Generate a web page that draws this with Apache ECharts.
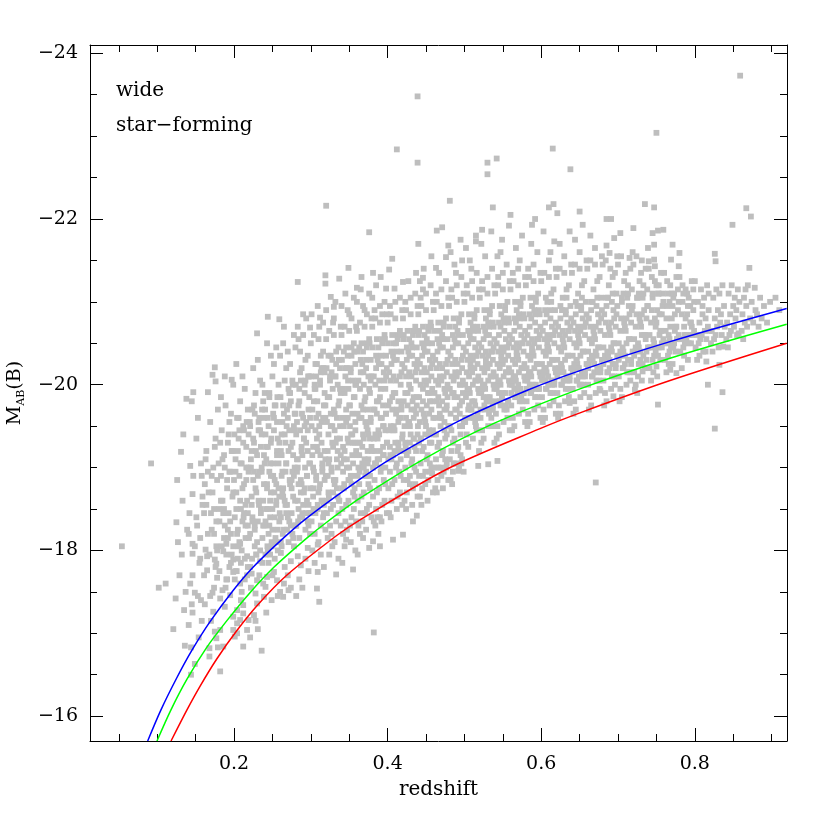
<!DOCTYPE html>
<html><head><meta charset="utf-8">
<script src="https://cdn.jsdelivr.net/npm/echarts@6/dist/echarts.min.js"></script>
<style>html,body{margin:0;padding:0;background:#fff}#c{width:830px;height:830px}</style>
</head><body><div id="c"></div>
<script>
// galaxies: [redshift, M_AB(B)]
const galaxiesLowZ = [
[.054,-18.05],[.092,-19.05],[.102,-17.55],[.111,-17.60],[.125,-18.34],
[.121,-17.05],[.124,-17.42],[.127,-18.1],[.129,-17.7],[.131,-19.19],[.133,-18.6],[.135,-17.28],[.136,-16.85],[.138,-19.83],[.139,-18.25],[.126,-18.85],[.132,-17.95],[.137,-17.5],[.134,-19.4],
[.146,-17.96],[.146,-18.08],[.146,-17.70],[.149,-17.49],[.144,-16.50],[.149,-16.63],[.144,-16.83],[.146,-17.25],[.143,-19.02],[.146,-18.68],[.147,-19.91],[.145,-19.8],
[.141,-17.1],[.152,-18.3],[.155,-17.85],[.158,-18.9],[.151,-19.35],[.157,-17.4],[.154,-16.95],[.159,-18.55],[.153,-19.6],[.156,-18.15],[.142,-18.45],[.158,-17.15],
[.163,-18.01],[.165,-17.93],[.177,-18.05],[.177,-17.84],[.175,-17.89],[.165,-17.76],[.172,-17.49],[.178,-17.67],[.168,-16.72],[.168,-16.82],[.179,-16.83],[.177,-16.94],[.175,-17.02],[.173,-17.26],
[.166,-19.91],[.175,-20.21],[.172,-20.12],[.176,-20.04],
[.161,-18.45],[.164,-19.2],[.167,-18.7],[.169,-19.55],[.171,-18.25],[.173,-19.0],[.174,-18.5],[.176,-19.35],[.178,-18.85],[.179,-19.7],[.162,-17.35],[.17,-17.15],[.166,-18.95],[.174,-18.2],
[.190,-18.08],[.199,-18.05],[.190,-17.95],[.199,-17.89],[.186,-17.99],[.182,-17.42],[.185,-17.52],[.199,-17.74],[.182,-16.54],[.186,-16.84],[.182,-17.04],[.199,-17.20],[.195,-17.46],[.188,-17.32],[.199,-17.04],
[.188,-20.10],[.199,-20.0],[.197,-20.06],
[.181,-18.35],[.183,-18.9],[.184,-19.45],[.185,-18.6],[.187,-19.15],[.188,-18.3],[.189,-19.75],[.191,-18.75],[.192,-19.3],[.193,-18.45],[.194,-19.55],[.195,-18.95],[.196,-18.2],[.197,-19.2],[.198,-18.65],[.183,-19.85],[.191,-17.65],[.194,-17.8],[.187,-18.5],[.196,-19.65],[.18,-19.05],[.192,-18.15],
[.208,-18.08],[.208,-17.60],[.204,-17.28],[.212,-17.24],[.219,-17.16],[.208,-17.16],[.204,-17.00],[.212,-16.84],[.201,-16.96],[.217,-17.04],[.204,-17.12],[.212,-17.34],[.217,-17.93],
[.201,-18.4],[.202,-19.1],[.203,-18.7],[.204,-19.6],[.205,-18.25],[.206,-19.35],[.207,-18.9],[.208,-19.8],[.209,-18.5],[.21,-19.05],[.211,-18.35],[.212,-19.5],[.213,-18.8],[.214,-19.95],[.215,-18.15],[.216,-19.25],[.217,-18.6],[.218,-19.7],[.219,-18.95],[.202,-17.75],[.205,-17.9],[.21,-17.5],[.214,-17.65],[.218,-17.8],[.203,-20.25],[.211,-20.1],[.207,-19.45],[.213,-18.45],[.216,-19.0],[.219,-19.4],[.2,-18.85],[.209,-17.4],[.215,-18.55],[.206,-18.05],[.218,-18.3],
[.226,-17.22],[.228,-17.48],[.230,-17.36],[.239,-17.44],[.230,-17.64],[.223,-17.72],[.234,-17.87],[.236,-16.79],[.230,-20.62],
[.221,-18.2],[.222,-19.0],[.223,-18.55],[.224,-19.7],[.225,-18.85],[.226,-19.3],[.227,-18.05],[.228,-19.9],[.229,-18.7],[.23,-19.15],[.231,-18.35],[.232,-19.55],[.233,-18.95],[.234,-20.05],[.235,-18.5],[.236,-19.4],[.237,-18.15],[.238,-19.8],[.239,-18.8],[.221,-19.5],[.224,-18.4],[.227,-19.65],[.229,-17.95],[.232,-18.6],[.235,-19.25],[.238,-18.3],[.222,-17.55],[.225,-20.2],[.231,-20.3],[.237,-20.0],[.24,-19.05],[.226,-18.95],[.233,-17.7],[.228,-17.15],[.236,-18.95],[.223,-19.2],[.239,-19.6],[.231,-17.05],[.234,-19.45],[.227,-18.3],[.221,-16.95],[.238,-17.6],
[.241,-17.56],[.243,-17.68],[.252,-17.74],[.256,-17.64],[.247,-17.95],[.244,-20.82],[.259,-20.79],
[.241,-18.35],[.242,-19.1],[.243,-18.75],[.244,-19.6],[.245,-18.2],[.246,-19.85],[.247,-18.6],[.248,-19.3],[.249,-18.05],[.25,-20.1],[.251,-18.9],[.252,-19.45],[.253,-18.4],[.254,-19.75],[.255,-18.8],[.256,-19.2],[.257,-18.25],[.258,-20.0],[.259,-18.65],[.24,-19.9],[.242,-18.5],[.244,-19.25],[.246,-18.95],[.248,-20.35],[.25,-18.5],[.252,-20.25],[.254,-18.1],[.256,-19.55],[.258,-19.05],[.245,-17.85],[.249,-17.4],[.253,-17.9],[.257,-17.45],[.241,-19.4],[.243,-20.5],[.247,-19.05],[.251,-19.65],[.255,-20.45],[.259,-18.35],[.246,-18.3],[.253,-18.85],[.248,-18.7],[.257,-19.35],[.244,-18.0],[.25,-17.7],[.255,-18.55],[.242,-17.25],
[.265,-17.60],[.271,-17.52],[.264,-17.44],[.261,-17.97],[.274,-17.87],[.278,-18.05],
[.261,-18.4],[.262,-19.15],[.263,-18.7],[.264,-19.75],[.265,-18.25],[.266,-19.4],[.267,-18.95],[.268,-20.2],[.269,-18.55],[.27,-19.6],[.271,-18.1],[.272,-19.9],[.273,-18.8],[.274,-19.25],[.275,-18.45],[.276,-20.05],[.277,-18.65],[.278,-19.5],[.279,-19.0],[.26,-20.35],[.262,-18.9],[.264,-20.5],[.266,-18.6],[.268,-19.05],[.27,-20.4],[.272,-18.35],[.274,-19.8],[.276,-18.2],[.278,-20.6],[.263,-19.55],[.267,-19.3],[.271,-19.95],[.275,-18.85],[.279,-18.3],[.261,-19.2],[.265,-20.7],[.269,-19.7],[.273,-20.25],[.277,-19.15],[.266,-17.8],[.27,-17.7],[.274,-17.55],[.262,-18.05],[.268,-18.45],[.272,-19.45],[.276,-18.95],[.264,-18.75],[.279,-19.65],[.26,-17.5],
[.283,-17.93],[.287,-17.82],[.296,-18.03],[.283,-21.24],[.283,-20.70],[.299,-20.69],
[.281,-18.3],[.282,-19.1],[.283,-18.6],[.284,-19.75],[.285,-18.15],[.286,-19.45],[.287,-18.85],[.288,-20.2],[.289,-18.45],[.29,-19.6],[.291,-18.7],[.292,-20.0],[.293,-18.25],[.294,-19.3],[.295,-18.9],[.296,-20.35],[.297,-18.55],[.298,-19.85],[.299,-19.05],[.28,-20.45],[.282,-18.95],[.284,-20.55],[.286,-18.4],[.288,-19.25],[.29,-20.6],[.292,-18.75],[.294,-19.55],[.296,-18.35],[.298,-20.1],[.281,-19.4],[.285,-19.95],[.289,-19.15],[.293,-20.3],[.297,-19.7],[.283,-19.0],[.287,-20.05],[.291,-19.35],[.295,-18.6],[.299,-18.2],[.285,-17.65],[.289,-17.55],[.293,-17.9],[.297,-17.75],[.281,-17.45],[.284,-18.5],[.288,-18.8],[.292,-19.5],[.296,-19.2],[.29,-20.85],[.294,-20.8],[.286,-20.4],[.298,-18.45],[.28,-19.65]
];
const galaxiesMidZ = [
[.309,-18.07],[.309,-17.74],[.308,-17.54],[.311,-17.38],[.320,-22.16],[.312,-20.81],[.316,-20.75],[.319,-21.32],[.319,-21.22],
[.301,-18.35],[.302,-19.15],[.303,-18.65],[.304,-19.8],[.305,-18.2],[.306,-19.45],[.307,-18.9],[.308,-20.25],[.309,-18.5],[.31,-19.65],[.311,-18.75],[.312,-20.05],[.313,-18.3],[.314,-19.3],[.315,-18.95],[.316,-20.4],[.317,-18.55],[.318,-19.9],[.319,-19.1],[.3,-20.5],[.302,-18.0],[.304,-20.6],[.306,-18.45],[.308,-19.25],[.31,-20.55],[.312,-18.8],[.314,-19.55],[.316,-18.4],[.318,-20.15],[.301,-19.5],[.305,-20.0],[.309,-19.2],[.313,-20.35],[.317,-19.75],[.303,-19.0],[.307,-20.1],[.311,-19.4],[.315,-18.6],[.319,-18.25],[.305,-17.85],[.313,-17.95],[.317,-17.8],[.303,-18.75],[.307,-19.6],[.311,-20.7],[.315,-19.0],[.319,-19.6],[.301,-20.85],[.309,-20.95],[.318,-18.85],[.31,-18.1],[.306,-19.95],[.314,-20.2],
[.333,-17.71],[.337,-21.28],[.326,-21.06],[.330,-20.94],[.332,-21.0],
[.321,-18.45],[.322,-19.2],[.323,-18.7],[.324,-19.85],[.325,-18.3],[.326,-19.5],[.327,-18.95],[.328,-20.3],[.329,-18.55],[.33,-19.7],[.331,-18.8],[.332,-20.1],[.333,-18.35],[.334,-19.35],[.335,-19.0],[.336,-20.45],[.337,-18.6],[.338,-19.95],[.339,-19.15],[.32,-20.55],[.322,-18.15],[.324,-20.65],[.326,-18.5],[.328,-19.3],[.33,-20.6],[.332,-18.85],[.334,-19.6],[.336,-18.45],[.338,-20.2],[.321,-19.55],[.325,-20.05],[.329,-19.25],[.333,-20.4],[.337,-19.8],[.323,-19.05],[.327,-20.15],[.331,-19.45],[.335,-18.65],[.339,-18.3],[.324,-17.95],[.328,-18.05],[.336,-17.9],[.322,-18.9],[.326,-19.65],[.33,-20.8],[.334,-19.1],[.338,-19.5],[.32,-20.9],[.329,-20.75],[.339,-20.7],[.327,-18.2],[.335,-20.0],[.331,-18.1],[.323,-20.35],
[.346,-18.13],[.355,-17.77],[.349,-21.41],
[.341,-18.5],[.342,-19.25],[.343,-18.75],[.344,-19.9],[.345,-18.35],[.346,-19.55],[.347,-19.0],[.348,-20.35],[.349,-18.6],[.35,-19.75],[.351,-18.85],[.352,-20.15],[.353,-18.4],[.354,-19.4],[.355,-19.05],[.356,-20.5],[.357,-18.65],[.358,-20.0],[.359,-19.2],[.34,-20.6],[.342,-18.2],[.344,-20.7],[.346,-18.55],[.348,-19.35],[.35,-20.65],[.352,-18.9],[.354,-19.65],[.356,-18.5],[.358,-20.25],[.341,-19.6],[.345,-20.1],[.349,-19.3],[.353,-20.45],[.357,-19.85],[.343,-19.1],[.347,-20.2],[.351,-19.5],[.355,-18.7],[.359,-18.35],[.344,-18.05],[.352,-18.1],[.358,-18.0],[.342,-18.95],[.346,-19.7],[.35,-20.85],[.354,-19.15],[.358,-19.55],[.34,-20.95],[.348,-20.9],[.356,-21.05],[.345,-21.1],[.353,-20.8],[.347,-18.25],[.355,-20.05],[.351,-18.3],[.343,-20.4],[.357,-19.3],[.349,-19.95],[.359,-20.7],[.341,-17.85],[.353,-18.8],
[.360,-21.17],[.376,-21.84],[.376,-18.03],
[.361,-18.6],[.362,-19.3],[.363,-18.8],[.364,-19.95],[.365,-18.45],[.366,-19.6],[.367,-19.05],[.368,-20.4],[.369,-18.7],[.37,-19.8],[.371,-18.9],[.372,-20.2],[.373,-18.5],[.374,-19.45],[.375,-19.1],[.376,-20.55],[.377,-18.75],[.378,-20.05],[.379,-19.25],[.36,-20.65],[.362,-18.3],[.364,-20.75],[.366,-18.65],[.368,-19.4],[.37,-20.7],[.372,-18.95],[.374,-19.7],[.376,-18.55],[.378,-20.3],[.361,-19.65],[.365,-20.15],[.369,-19.35],[.373,-20.5],[.377,-19.9],[.363,-19.15],[.367,-20.25],[.371,-19.55],[.375,-18.8],[.379,-18.4],[.364,-18.2],[.372,-18.25],[.368,-18.15],[.362,-19.0],[.366,-19.75],[.37,-20.9],[.374,-19.2],[.378,-19.6],[.36,-21.0],[.368,-20.95],[.376,-21.1],[.365,-21.15],[.373,-20.85],[.367,-18.35],[.375,-20.1],[.371,-18.45],[.363,-20.45],[.377,-19.35],[.369,-20.0],[.379,-20.8],[.361,-17.95],[.373,-18.9],[.366,-21.3],
[.382,-17.01],[.381,-18.11],[.390,-18.05],[.390,-18.40],[.385,-21.20],[.398,-21.16],
[.381,-18.65],[.382,-19.35],[.383,-18.85],[.384,-20.0],[.385,-18.5],[.386,-19.65],[.387,-19.1],[.388,-20.45],[.389,-18.75],[.39,-19.85],[.391,-18.95],[.392,-20.25],[.393,-18.55],[.394,-19.5],[.395,-19.15],[.396,-20.6],[.397,-18.8],[.398,-20.1],[.399,-19.3],[.38,-20.7],[.382,-18.35],[.384,-20.8],[.386,-18.7],[.388,-19.45],[.39,-20.75],[.392,-19.0],[.394,-19.75],[.396,-18.6],[.398,-20.35],[.381,-19.7],[.385,-20.2],[.389,-19.4],[.393,-20.55],[.397,-19.95],[.383,-19.2],[.387,-20.3],[.391,-19.6],[.395,-18.85],[.399,-18.45],[.384,-18.3],[.392,-18.35],[.388,-18.2],[.386,-19.8],[.39,-20.95],[.394,-19.25],[.398,-19.65],[.38,-21.05],[.396,-21.0],[.383,-20.9],[.393,-20.85],[.387,-18.4],[.395,-20.15],[.389,-20.05],[.399,-20.85],[.385,-19.05],[.397,-19.45],[.391,-21.3],[.381,-21.35],
[.412,-22.84],[.406,-21.52],[.402,-21.39],[.409,-21.16],[.420,-21.24],[.407,-18.13],[.420,-18.19],
[.401,-18.75],[.402,-19.45],[.403,-18.95],[.404,-20.05],[.405,-18.6],[.406,-19.7],[.407,-19.15],[.408,-20.5],[.409,-18.85],[.41,-19.9],[.411,-19.0],[.412,-20.3],[.413,-18.65],[.414,-19.55],[.415,-19.2],[.416,-20.65],[.417,-18.9],[.418,-20.15],[.419,-19.35],[.4,-20.75],[.402,-18.45],[.404,-20.85],[.406,-18.8],[.408,-19.5],[.41,-20.8],[.412,-19.05],[.414,-19.8],[.416,-18.7],[.418,-20.4],[.401,-19.75],[.405,-20.25],[.409,-19.45],[.413,-20.6],[.417,-20.0],[.403,-19.25],[.407,-20.35],[.411,-19.65],[.415,-18.95],[.419,-18.55],[.404,-18.4],[.412,-18.5],[.406,-19.85],[.41,-21.0],[.414,-19.3],[.418,-19.7],[.403,-20.95],[.416,-21.05],[.408,-20.1],[.419,-20.9],[.405,-19.1],[.417,-19.6],[.411,-20.5],
[.439,-23.48],[.439,-22.68],[.440,-21.70],[.438,-18.42],
[.421,-18.85],[.422,-19.5],[.423,-19.0],[.424,-20.1],[.425,-18.7],[.426,-19.75],[.427,-19.2],[.428,-20.55],[.429,-18.9],[.43,-19.95],[.431,-19.05],[.432,-20.35],[.433,-18.75],[.434,-19.6],[.435,-19.25],[.436,-20.7],[.437,-18.95],[.438,-20.2],[.439,-19.4],[.42,-20.8],[.422,-18.6],[.424,-20.9],[.426,-18.85],[.428,-19.55],[.43,-20.85],[.432,-19.1],[.434,-19.85],[.436,-18.8],[.438,-20.45],[.421,-19.8],[.425,-20.3],[.429,-19.5],[.433,-20.65],[.437,-20.05],[.423,-19.3],[.427,-20.4],[.431,-19.7],[.435,-19.0],[.439,-18.65],[.424,-18.5],[.432,-18.55],[.426,-19.9],[.43,-21.05],[.434,-19.35],[.438,-19.75],[.423,-21.0],[.436,-21.1],[.428,-20.15],[.439,-20.95],[.425,-19.15],[.437,-19.65],[.431,-20.5],[.427,-21.25],[.433,-18.35],[.421,-20.6],[.435,-20.25],[.429,-18.8],[.437,-21.35],
[.446,-21.29],[.446,-21.15],[.458,-18.93],
[.441,-18.9],[.442,-19.55],[.443,-19.05],[.444,-20.15],[.445,-18.75],[.446,-19.8],[.447,-19.25],[.448,-20.6],[.449,-18.95],[.45,-20.0],[.451,-19.1],[.452,-20.4],[.453,-18.85],[.454,-19.65],[.455,-19.3],[.456,-20.75],[.457,-19.0],[.458,-20.25],[.459,-19.45],[.44,-20.85],[.442,-18.65],[.444,-20.95],[.446,-18.9],[.448,-19.6],[.45,-20.9],[.452,-19.15],[.454,-19.9],[.456,-18.95],[.458,-20.5],[.441,-19.85],[.445,-20.35],[.449,-19.55],[.453,-20.7],[.457,-20.1],[.443,-19.35],[.447,-20.45],[.451,-19.75],[.455,-19.05],[.459,-18.7],[.444,-18.55],[.452,-18.6],[.446,-19.95],[.45,-21.1],[.454,-19.4],[.458,-19.8],[.443,-21.05],[.456,-21.2],[.448,-20.2],[.459,-21.0],[.445,-19.2],[.457,-19.7],[.451,-20.55],[.447,-21.4],[.453,-20.05],[.441,-20.65],[.455,-20.3],[.449,-18.8],[.442,-21.25],[.457,-21.55],
[.464,-21.86],[.463,-21.41],[.470,-18.90],[.471,-21.90],[.476,-21.54],[.479,-21.68],
[.461,-19.0],[.462,-19.6],[.463,-19.1],[.464,-20.2],[.465,-18.85],[.466,-19.85],[.467,-19.3],[.468,-20.65],[.469,-19.0],[.47,-20.05],[.471,-19.15],[.472,-20.45],[.473,-18.95],[.474,-19.7],[.475,-19.35],[.476,-20.8],[.477,-19.05],[.478,-20.3],[.479,-19.5],[.46,-20.9],[.462,-18.75],[.464,-21.0],[.466,-19.0],[.468,-19.65],[.47,-20.95],[.472,-19.2],[.474,-19.95],[.476,-19.0],[.478,-20.55],[.461,-19.9],[.465,-20.4],[.469,-19.6],[.473,-20.75],[.477,-20.15],[.463,-19.4],[.467,-20.5],[.471,-19.8],[.475,-19.1],[.479,-18.85],[.464,-18.7],[.472,-18.75],[.466,-20.0],[.47,-21.15],[.474,-19.45],[.478,-19.85],[.463,-21.1],[.476,-21.25],[.468,-20.25],[.479,-21.05],[.465,-19.25],[.477,-19.75],[.471,-20.6],[.467,-21.35],[.473,-20.1],
[.481,-22.22],[.492,-18.96],
[.481,-19.1],[.482,-19.65],[.483,-19.2],[.484,-20.25],[.485,-18.95],[.486,-19.9],[.487,-19.35],[.488,-20.7],[.489,-19.05],[.49,-20.1],[.491,-19.2],[.492,-20.5],[.493,-19.0],[.494,-19.75],[.495,-19.4],[.496,-20.85],[.497,-19.1],[.498,-20.35],[.499,-19.55],[.48,-20.95],[.482,-18.85],[.484,-21.05],[.486,-19.05],[.488,-19.7],[.49,-21.0],[.492,-19.25],[.494,-20.0],[.496,-19.05],[.498,-20.6],[.481,-19.95],[.485,-20.45],[.489,-19.6],[.493,-20.8],[.497,-20.2],[.483,-19.45],[.487,-20.55],[.491,-19.85],[.495,-19.15],[.499,-18.95],[.484,-18.8],[.486,-20.05],[.49,-21.2],[.494,-19.5],[.498,-19.9],[.483,-21.15],[.496,-21.3],[.488,-20.3],[.499,-21.1],[.485,-19.3],[.497,-19.8],[.491,-20.65],[.487,-21.45],[.493,-20.15],[.482,-21.6],[.495,-21.75],[.489,-21.35],[.497,-21.5]
];
const galaxiesHighZ = [
[.518,-19.02],[.515,-21.73],
[.501,-19.55],[.502,-19.85],[.503,-19.4],[.504,-20.3],[.505,-19.25],[.506,-19.95],[.507,-19.6],[.508,-20.75],[.509,-19.7],[.51,-20.15],[.511,-19.35],[.512,-20.55],[.513,-19.8],[.514,-20.05],[.515,-19.5],[.516,-20.9],[.517,-19.65],[.518,-20.4],[.519,-19.9],[.5,-21.0],[.502,-19.3],[.504,-21.1],[.506,-19.75],[.508,-20.25],[.51,-21.05],[.512,-19.6],[.514,-20.45],[.516,-19.45],[.518,-20.65],[.501,-20.0],[.505,-20.5],[.509,-20.2],[.513,-20.85],[.517,-20.25],[.503,-19.9],[.507,-20.6],[.511,-20.0],[.515,-20.35],[.519,-19.2],[.506,-20.1],[.51,-21.25],[.514,-19.55],[.518,-19.95],[.503,-21.2],[.516,-21.35],[.508,-20.35],[.519,-21.15],[.505,-19.7],[.517,-20.7],[.511,-20.7],[.507,-21.5],[.513,-20.2],[.502,-21.65],[.515,-21.8],[.509,-21.4],
[.523,-21.87],[.530,-22.68],[.530,-22.54],[.537,-22.14],[.531,-19.04],
[.521,-19.6],[.522,-19.9],[.523,-19.45],[.524,-20.35],[.525,-19.35],[.526,-20.0],[.527,-19.7],[.528,-20.8],[.529,-19.8],[.53,-20.2],[.531,-19.5],[.532,-20.6],[.533,-19.85],[.534,-20.1],[.535,-19.6],[.536,-20.95],[.537,-19.75],[.538,-20.45],[.539,-19.95],[.52,-21.05],[.522,-19.3],[.524,-21.15],[.526,-19.75],[.528,-20.3],[.53,-21.1],[.532,-19.65],[.534,-20.5],[.536,-19.5],[.538,-20.7],[.521,-20.05],[.525,-20.55],[.529,-20.25],[.533,-20.9],[.537,-20.3],[.523,-19.95],[.527,-20.65],[.531,-20.05],[.535,-20.4],[.539,-19.3],[.526,-20.15],[.53,-21.3],[.534,-19.7],[.538,-20.0],[.523,-21.25],[.536,-21.4],[.528,-20.4],[.539,-21.2],[.525,-19.85],[.537,-20.75],[.531,-20.75],[.527,-21.55],[.533,-20.25],[.522,-21.7],[.535,-21.85],
[.543,-21.55],[.542,-22.73],[.543,-19.08],
[.541,-19.65],[.542,-19.95],[.543,-19.5],[.544,-20.4],[.545,-19.4],[.546,-20.05],[.547,-19.75],[.548,-20.85],[.549,-19.85],[.55,-20.25],[.551,-19.55],[.552,-20.65],[.553,-19.9],[.554,-20.15],[.555,-19.7],[.556,-21.0],[.557,-19.8],[.558,-20.5],[.559,-20.0],[.54,-21.1],[.542,-19.35],[.544,-21.2],[.546,-19.8],[.548,-20.35],[.55,-21.15],[.552,-19.7],[.554,-20.55],[.556,-19.6],[.558,-20.75],[.541,-20.1],[.545,-20.6],[.549,-20.3],[.553,-20.95],[.557,-20.35],[.543,-20.0],[.547,-20.7],[.551,-20.1],[.555,-20.45],[.559,-19.45],[.546,-20.2],[.55,-21.35],[.554,-19.75],[.558,-20.05],[.548,-20.45],[.559,-21.25],[.545,-19.9],[.557,-20.8],[.551,-20.8],[.547,-21.6],[.553,-20.3],[.555,-21.45],[.549,-21.75],[.544,-21.3],
[.560,-22.05],[.558,-21.92],[.572,-21.50],
[.561,-19.75],[.562,-20.0],[.563,-19.6],[.564,-20.45],[.565,-19.5],[.566,-20.1],[.567,-19.85],[.568,-20.9],[.569,-19.9],[.57,-20.3],[.571,-19.65],[.572,-20.7],[.573,-19.95],[.574,-20.2],[.575,-19.8],[.576,-21.05],[.577,-19.9],[.578,-20.55],[.579,-20.05],[.56,-21.15],[.562,-19.45],[.564,-21.25],[.566,-19.85],[.568,-20.4],[.57,-21.2],[.572,-19.8],[.574,-20.6],[.576,-19.7],[.578,-20.8],[.561,-20.15],[.565,-20.65],[.569,-20.35],[.573,-21.0],[.577,-20.4],[.563,-20.05],[.567,-20.75],[.571,-20.15],[.575,-20.5],[.579,-19.55],[.566,-20.25],[.57,-21.4],[.574,-19.85],[.578,-20.1],[.568,-20.5],[.579,-21.3],[.565,-19.95],[.577,-20.85],[.571,-20.85],[.567,-21.65],[.563,-21.35],[.575,-21.8],
[.588,-21.93],
[.581,-19.8],[.582,-20.05],[.583,-19.65],[.584,-20.5],[.585,-19.55],[.586,-20.15],[.587,-19.9],[.588,-20.95],[.589,-19.95],[.59,-20.35],[.591,-19.7],[.592,-20.75],[.593,-20.0],[.594,-20.25],[.595,-19.85],[.596,-21.1],[.597,-19.95],[.598,-20.6],[.599,-20.1],[.58,-21.2],[.582,-19.5],[.584,-21.3],[.586,-19.9],[.588,-20.45],[.59,-21.25],[.592,-19.85],[.594,-20.65],[.596,-19.75],[.598,-20.85],[.581,-20.2],[.585,-20.7],[.589,-20.4],[.593,-21.05],[.597,-20.45],[.583,-20.1],[.587,-20.8],[.591,-20.2],[.595,-20.55],[.599,-19.6],[.586,-20.3],[.59,-21.45],[.594,-19.95],[.598,-20.15],[.588,-20.55],[.599,-21.35],[.585,-20.0],[.597,-20.9],[.591,-20.9],[.587,-21.7],[.583,-21.4],[.595,-21.6],[.592,-22.0],
[.615,-22.85],[.610,-22.14],[.616,-22.18],[.617,-21.73],
[.601,-19.85],[.602,-20.1],[.603,-19.7],[.604,-20.55],[.605,-19.6],[.606,-20.2],[.607,-19.95],[.608,-21.0],[.609,-20.0],[.61,-20.4],[.611,-19.75],[.612,-20.8],[.613,-20.05],[.614,-20.3],[.615,-19.9],[.616,-21.15],[.617,-20.0],[.618,-20.65],[.619,-20.15],[.6,-21.25],[.602,-19.55],[.604,-21.35],[.606,-19.95],[.608,-20.5],[.61,-21.3],[.612,-19.9],[.614,-20.7],[.616,-19.8],[.618,-20.9],[.601,-20.25],[.605,-20.75],[.609,-20.45],[.613,-21.1],[.617,-20.5],[.603,-20.15],[.607,-20.85],[.611,-20.25],[.615,-20.6],[.619,-19.65],[.606,-20.35],[.61,-21.5],[.614,-20.0],[.618,-20.2],[.608,-20.6],[.619,-21.4],[.605,-20.05],[.612,-21.6],[.603,-21.85],
[.621,-22.07],[.637,-21.85],[.638,-22.60],[.637,-19.78],
[.621,-19.9],[.622,-20.15],[.623,-19.75],[.624,-20.6],[.625,-19.65],[.626,-20.25],[.627,-20.0],[.628,-21.05],[.629,-20.05],[.63,-20.45],[.631,-19.8],[.632,-20.85],[.633,-20.1],[.634,-20.35],[.635,-19.95],[.636,-21.2],[.637,-20.05],[.638,-20.7],[.639,-20.2],[.62,-21.3],[.622,-19.6],[.624,-21.4],[.626,-20.0],[.628,-20.55],[.63,-21.35],[.632,-19.95],[.634,-20.75],[.636,-19.85],[.638,-20.95],[.621,-20.3],[.625,-20.8],[.629,-20.5],[.633,-21.15],[.637,-20.55],[.623,-20.2],[.627,-20.9],[.631,-20.3],[.635,-20.65],[.626,-20.4],[.63,-21.55],[.634,-20.05],[.639,-21.45],[.628,-20.65],[.624,-21.7],
[.650,-22.09],[.654,-21.93],[.65,-20.0],
[.641,-19.95],[.642,-20.2],[.643,-19.8],[.644,-20.65],[.645,-19.7],[.646,-20.3],[.647,-20.05],[.648,-21.1],[.649,-20.1],[.65,-20.5],[.651,-19.85],[.652,-20.9],[.653,-20.15],[.654,-20.4],[.655,-20.0],[.656,-21.25],[.657,-20.1],[.658,-20.75],[.659,-20.25],[.64,-21.35],[.642,-19.65],[.644,-21.45],[.646,-20.05],[.648,-20.6],[.65,-21.4],[.652,-20.0],[.654,-20.8],[.656,-19.9],[.658,-21.0],[.641,-20.35],[.645,-20.85],[.649,-20.55],[.653,-21.2],[.657,-20.6],[.643,-20.25],[.647,-20.95],[.651,-20.35],[.655,-20.7],[.646,-20.45],[.65,-21.6],[.654,-20.1],[.659,-21.5],[.648,-20.7],[.644,-21.75],
[.671,-18.82],[.677,-19.93],
[.661,-20.0],[.662,-20.25],[.663,-19.85],[.664,-20.7],[.665,-19.75],[.666,-20.35],[.667,-20.1],[.668,-21.15],[.669,-20.15],[.67,-20.55],[.671,-19.9],[.672,-20.95],[.673,-20.2],[.674,-20.45],[.675,-20.05],[.676,-21.3],[.677,-20.15],[.678,-20.8],[.679,-20.3],[.66,-21.4],[.662,-19.7],[.664,-21.5],[.666,-20.1],[.668,-20.65],[.67,-21.45],[.672,-20.05],[.674,-20.85],[.676,-19.95],[.678,-21.05],[.661,-20.4],[.665,-20.9],[.669,-20.6],[.673,-21.25],[.677,-20.65],[.663,-20.3],[.667,-21.0],[.671,-20.4],[.675,-20.75],[.666,-20.5],[.67,-21.65],[.674,-20.15],[.679,-21.55],[.664,-21.8],
[.685,-22.00],[.691,-22.00],[.695,-21.77],[.685,-21.68],[.689,-21.59],[.694,-19.86],
[.681,-20.05],[.682,-20.3],[.683,-19.9],[.684,-20.75],[.685,-19.8],[.686,-20.4],[.687,-20.15],[.688,-21.2],[.689,-20.2],[.69,-20.6],[.691,-19.95],[.692,-21.0],[.693,-20.25],[.694,-20.5],[.695,-20.1],[.696,-21.35],[.697,-20.2],[.698,-20.85],[.699,-20.35],[.68,-21.45],[.682,-19.75],[.684,-21.5],[.686,-20.15],[.688,-20.7],[.69,-21.4],[.692,-20.1],[.694,-20.9],[.696,-20.0],[.698,-21.1],[.681,-20.45],[.685,-20.95],[.689,-20.65],[.693,-21.3],[.697,-20.7],[.683,-20.35],[.687,-21.05],[.691,-20.45],[.695,-20.8],[.699,-21.55]
];
const galaxiesFarZ = [
[.703,-21.83],[.715,-21.53],[.720,-21.89],
[.701,-20.1],[.702,-20.35],[.703,-19.95],[.704,-20.8],[.705,-19.85],[.706,-20.45],[.707,-20.2],[.708,-21.25],[.709,-20.25],[.71,-20.65],[.711,-20.0],[.712,-21.05],[.713,-20.3],[.714,-20.55],[.715,-20.15],[.716,-21.4],[.717,-20.25],[.718,-20.9],[.719,-20.4],[.7,-21.45],[.702,-19.8],[.704,-21.55],[.706,-20.2],[.708,-20.75],[.71,-21.35],[.712,-20.15],[.714,-20.95],[.716,-20.05],[.718,-21.15],[.701,-20.5],[.705,-21.0],[.709,-20.7],[.713,-21.2],[.717,-20.75],[.703,-20.4],[.707,-21.1],[.711,-20.5],[.719,-21.6],[.715,-20.85],
[.722,-19.94],[.731,-21.50],[.735,-22.18],[.732,-20.16],
[.721,-20.15],[.722,-20.4],[.723,-20.0],[.724,-20.85],[.725,-19.9],[.726,-20.5],[.727,-20.25],[.728,-21.25],[.729,-20.3],[.73,-20.7],[.731,-20.05],[.732,-21.05],[.733,-20.35],[.734,-20.6],[.735,-20.2],[.736,-21.4],[.737,-20.3],[.738,-20.95],[.739,-20.45],[.72,-21.45],[.724,-21.55],[.726,-20.1],[.728,-20.8],[.73,-21.35],[.732,-20.25],[.734,-20.9],[.736,-20.55],[.738,-21.15],[.721,-20.55],[.725,-21.05],[.729,-20.75],[.733,-21.2],[.737,-20.8],[.723,-20.45],[.727,-21.1],[.731,-20.6],[.739,-21.65],
[.750,-23.04],[.747,-22.14],[.745,-21.83],[.752,-21.86],[.759,-21.87],[.747,-21.69],[.740,-21.49],[.747,-21.51],[.748,-21.43],[.752,-19.76],[.75,-20.22],
[.741,-20.2],[.742,-20.45],[.743,-20.05],[.744,-20.9],[.745,-20.3],[.746,-20.55],[.747,-20.35],[.748,-21.25],[.749,-20.4],[.75,-20.75],[.751,-20.1],[.752,-21.1],[.753,-20.45],[.754,-20.6],[.755,-20.3],[.756,-21.35],[.757,-20.5],[.758,-20.95],[.759,-20.55],[.74,-21.4],[.744,-21.3],[.746,-20.15],[.748,-20.8],[.75,-21.2],[.752,-20.35],[.754,-20.85],[.756,-20.65],[.758,-21.1],[.741,-20.6],[.745,-21.05],[.749,-20.7],[.753,-21.2],[.757,-20.85],
[.771,-21.69],[.769,-21.51],[.768,-20.18],[.776,-20.14],
[.761,-20.3],[.762,-20.5],[.763,-20.15],[.764,-20.95],[.765,-20.35],[.766,-20.6],[.767,-20.4],[.768,-21.2],[.769,-20.45],[.77,-20.8],[.771,-20.25],[.772,-21.05],[.773,-20.5],[.774,-20.65],[.775,-20.4],[.776,-21.3],[.777,-20.55],[.778,-20.9],[.779,-20.6],[.76,-21.35],[.764,-21.25],[.766,-20.25],[.768,-20.7],[.77,-21.1],[.772,-20.45],[.774,-20.85],[.776,-20.7],[.778,-21.15],[.762,-20.65],[.767,-21.0],
[.780,-21.59],[.779,-21.43],
[.781,-20.4],[.782,-20.55],[.783,-20.2],[.784,-21.0],[.785,-20.45],[.786,-20.7],[.787,-20.5],[.788,-21.15],[.789,-20.55],[.79,-20.85],[.791,-20.3],[.792,-21.05],[.793,-20.6],[.794,-20.75],[.795,-20.5],[.796,-21.25],[.797,-20.6],[.798,-20.9],[.799,-20.65],[.78,-21.3],[.784,-21.2],[.786,-20.35],[.788,-20.8],[.79,-21.1],[.792,-20.5],[.794,-20.95],[.796,-20.7],[.798,-21.15],
[.815,-20.28],[.814,-20.40],[.817,-20.0],
[.801,-20.45],[.802,-20.6],[.803,-20.3],[.804,-21.0],[.805,-20.5],[.806,-20.75],[.807,-20.55],[.808,-21.15],[.809,-20.6],[.81,-20.85],[.811,-20.4],[.812,-21.05],[.813,-20.65],[.814,-20.8],[.815,-20.55],[.816,-21.2],[.817,-20.7],[.818,-20.9],[.819,-20.65],[.8,-21.25],[.806,-20.35],[.81,-20.95],[.818,-21.1],
[.826,-21.58],[.827,-21.49],[.826,-19.47],[.832,-20.24],[.836,-19.91],[.837,-20.46],
[.821,-20.5],[.822,-20.65],[.823,-20.4],[.824,-21.05],[.825,-20.55],[.826,-20.8],[.827,-20.6],[.828,-21.15],[.829,-20.7],[.83,-20.9],[.831,-20.45],[.832,-21.1],[.833,-20.75],[.834,-20.85],[.835,-20.6],[.836,-21.2],[.838,-20.95],[.839,-20.7],
[.849,-21.93],[.857,-20.62],[.859,-23.73],
[.841,-20.55],[.842,-20.75],[.843,-20.45],[.844,-21.1],[.845,-20.6],[.846,-20.85],[.847,-20.65],[.848,-21.2],[.85,-20.95],[.851,-20.7],[.852,-21.05],[.853,-20.8],[.854,-20.9],[.855,-20.6],[.856,-21.15],[.858,-21.0],
[.867,-22.13],[.873,-22.03],[.871,-21.41],[.866,-21.15],[.878,-21.17],
[.861,-20.65],[.862,-20.85],[.863,-20.55],[.864,-21.05],[.865,-20.75],[.867,-20.95],[.868,-20.7],[.869,-21.2],[.872,-20.8],[.874,-21.0],[.876,-20.75],[.879,-20.9],
[.881,-20.85],[.883,-20.7],[.885,-21.05],[.887,-20.8],[.89,-20.95],[.894,-20.75],[.898,-21.0],[.905,-21.05],[.91,-20.9]
];
const galaxiesCore = [
[.143,-17.6],[.151,-18.4],[.147,-18.9],[.156,-17.9],[.159,-18.65],[.141,-18.2],[.153,-17.45],[.149,-18.05],[.157,-19.05],[.145,-17.35],
[.161,-17.7],[.164,-18.55],[.168,-17.95],[.171,-18.9],[.174,-17.55],[.177,-18.35],[.163,-19.1],[.166,-18.2],[.169,-17.45],[.172,-18.7],[.175,-19.25],[.178,-18.0],[.162,-18.8],[.176,-17.8],[.17,-18.45],
[.181,-17.75],[.183,-18.6],[.185,-19.1],[.187,-18.15],[.189,-17.55],[.191,-18.85],[.193,-19.4],[.195,-18.35],[.197,-17.95],[.199,-18.7],[.182,-19.3],[.184,-18.05],[.186,-18.45],[.188,-19.0],[.19,-17.65],[.192,-18.25],[.194,-18.95],[.196,-17.85],[.198,-19.2],[.1805,-18.5],
[.201,-17.65],[.203,-18.5],[.205,-19.2],[.207,-18.1],[.209,-17.85],[.211,-18.75],[.213,-19.45],[.215,-18.3],[.217,-17.7],[.219,-19.0],[.202,-18.95],[.204,-18.2],[.206,-19.6],[.208,-18.6],[.21,-18.0],[.212,-19.3],[.214,-17.9],[.216,-18.85],[.218,-18.45],[.2005,-19.4],[.2035,-17.75],[.2085,-19.05],[.2125,-18.4],[.2165,-19.55],[.2195,-18.15],
[.221,-17.8],[.223,-18.65],[.225,-19.35],[.227,-18.25],[.229,-17.95],[.231,-18.9],[.233,-19.6],[.235,-18.45],[.237,-17.85],[.239,-19.15],[.222,-19.1],[.224,-18.35],[.226,-19.75],[.228,-18.75],[.23,-18.1],[.232,-19.45],[.234,-18.0],[.236,-19.0],[.238,-18.6],[.2205,-19.55],[.2235,-17.9],[.2285,-19.2],[.2325,-18.55],[.2365,-19.7],[.2395,-18.3],
[.241,-17.95],[.243,-18.8],[.245,-19.5],[.247,-18.4],[.249,-18.1],[.251,-19.05],[.253,-19.75],[.255,-18.6],[.257,-18.0],[.259,-19.3],[.242,-19.25],[.244,-18.5],[.246,-19.9],[.248,-18.9],[.25,-18.25],[.252,-19.6],[.254,-18.15],[.256,-19.15],[.258,-18.75],[.2405,-19.7],[.2435,-18.05],[.2485,-19.35],[.2525,-18.7],[.2565,-19.85],[.2595,-18.45],
[.261,-18.1],[.263,-18.95],[.265,-19.65],[.267,-18.55],[.269,-18.25],[.271,-19.2],[.273,-19.9],[.275,-18.75],[.277,-18.15],[.279,-19.45],[.262,-19.4],[.264,-18.65],[.266,-20.05],[.268,-19.05],[.27,-18.4],[.272,-19.75],[.274,-18.3],[.276,-19.3],[.278,-18.9],[.2605,-19.85],[.2635,-18.2],[.2685,-19.5],[.2725,-18.85],[.2765,-20.0],[.2795,-18.6],
[.281,-18.3],[.283,-19.1],[.285,-19.8],[.287,-18.7],[.289,-18.4],[.291,-19.35],[.293,-20.05],[.295,-18.9],[.297,-18.3],[.299,-19.6],[.282,-19.55],[.284,-18.8],[.286,-20.15],[.288,-19.2],[.29,-18.55],[.292,-19.9],[.294,-18.45],[.296,-19.45],[.298,-19.05],[.2805,-20.0],[.2835,-18.35],[.2885,-19.65],[.2925,-19.0],[.2965,-20.1],[.2995,-18.75],
[.301,-18.45],[.303,-19.25],[.305,-19.95],[.307,-18.85],[.309,-18.55],[.311,-19.5],[.313,-20.15],[.315,-19.05],[.317,-18.45],[.319,-19.75],[.302,-19.7],[.304,-18.95],[.306,-20.25],[.308,-19.35],[.31,-18.7],[.312,-20.0],[.314,-18.6],[.316,-19.6],[.318,-19.2],[.3005,-20.1],[.3035,-18.5],[.3085,-19.8],[.3125,-19.15],[.3165,-20.2],[.3195,-18.9],
[.321,-18.6],[.323,-19.4],[.325,-20.1],[.327,-19.0],[.329,-18.7],[.331,-19.65],[.333,-20.25],[.335,-19.2],[.337,-18.6],[.339,-19.9],[.322,-19.85],[.324,-19.1],[.326,-20.35],[.328,-19.5],[.33,-18.85],[.332,-20.1],[.334,-18.75],[.336,-19.75],[.338,-19.35],[.3205,-20.2],[.3235,-18.65],[.3285,-19.95],[.3325,-19.3],[.3365,-20.3],[.3395,-19.05],
[.341,-18.75],[.343,-19.5],[.345,-20.2],[.347,-19.1],[.349,-18.85],[.351,-19.75],[.353,-20.35],[.355,-19.3],[.357,-18.75],[.359,-20.0],[.342,-19.95],[.344,-19.2],[.346,-20.45],[.348,-19.6],[.35,-19.0],[.352,-20.2],[.354,-18.9],[.356,-19.85],[.358,-19.45],[.3405,-20.3],[.3435,-18.8],[.3485,-20.05],[.3525,-19.4],[.3565,-20.4],[.3595,-19.15],
[.361,-18.9],[.363,-19.6],[.365,-20.3],[.367,-19.25],[.369,-19.0],[.371,-19.85],[.373,-20.45],[.375,-19.4],[.377,-18.9],[.379,-20.1],[.362,-20.05],[.364,-19.3],[.366,-20.5],[.368,-19.7],[.37,-19.1],[.372,-20.3],[.374,-19.05],[.376,-19.95],[.378,-19.55],[.3605,-20.4],[.3635,-18.95],[.3685,-20.15],[.3725,-19.5],[.3765,-20.5],[.3795,-19.2],
[.381,-19.0],[.383,-19.7],[.385,-20.35],[.387,-19.35],[.389,-19.1],[.391,-19.95],[.393,-20.5],[.395,-19.5],[.397,-19.0],[.399,-20.2],[.382,-20.1],[.384,-19.4],[.386,-20.55],[.388,-19.8],[.39,-19.2],[.392,-20.35],[.394,-19.15],[.396,-20.05],[.398,-19.65],[.3805,-20.45],[.3835,-19.05],[.3885,-20.25],[.3925,-19.6],[.3965,-20.55],[.3995,-19.3],
[.401,-19.1],[.403,-19.8],[.405,-20.4],[.407,-19.45],[.409,-19.2],[.411,-20.05],[.413,-20.55],[.415,-19.6],[.417,-19.1],[.419,-20.25],[.402,-20.15],[.404,-19.5],[.406,-20.6],[.408,-19.9],[.41,-19.3],[.412,-20.4],[.414,-19.25],[.416,-20.1],[.418,-19.75],[.4005,-20.5],[.4035,-19.15],[.4085,-20.3],[.4125,-19.7],[.4165,-20.6],[.4195,-19.4],
[.421,-19.2],[.423,-19.9],[.425,-20.45],[.427,-19.55],[.429,-19.3],[.431,-20.1],[.433,-20.6],[.435,-19.7],[.437,-19.2],[.439,-20.3],[.422,-20.2],[.424,-19.6],[.426,-20.65],[.428,-20.0],[.43,-19.4],[.432,-20.45],[.434,-19.35],[.436,-20.15],[.438,-19.85],[.4205,-20.55],[.4235,-19.25],[.4285,-20.35],[.4325,-19.8],[.4365,-20.65],[.4395,-19.5],
[.441,-19.3],[.443,-20.0],[.445,-20.5],[.447,-19.65],[.449,-19.4],[.451,-20.15],[.453,-20.65],[.455,-19.8],[.457,-19.3],[.459,-20.35],[.442,-20.25],[.444,-19.7],[.446,-20.7],[.448,-20.05],[.45,-19.5],[.452,-20.5],[.454,-19.45],[.456,-20.2],[.458,-19.95],[.4405,-20.6],[.4435,-19.35],[.4485,-20.4],[.4525,-19.9],[.4565,-20.7],[.4595,-19.6],
[.461,-19.4],[.463,-20.05],[.465,-20.55],[.467,-19.75],[.469,-19.5],[.471,-20.2],[.473,-20.7],[.475,-19.9],[.477,-19.4],[.479,-20.4],[.462,-20.3],[.464,-19.8],[.466,-20.75],[.468,-20.1],[.47,-19.6],[.472,-20.55],[.474,-19.55],[.476,-20.25],[.478,-20.0],[.4605,-20.65],[.4685,-20.45],[.4765,-19.7],
[.481,-19.5],[.483,-20.1],[.485,-20.6],[.487,-19.85],[.489,-19.6],[.491,-20.25],[.493,-20.75],[.495,-20.0],[.497,-19.5],[.499,-20.45],[.482,-20.35],[.484,-19.9],[.486,-20.8],[.488,-20.15],[.49,-19.7],[.492,-20.6],[.494,-19.65],[.496,-20.3],[.498,-20.05],[.4805,-20.7],[.4885,-20.5],[.4965,-19.8],
[.501,-19.6],[.503,-20.15],[.505,-20.65],[.507,-19.9],[.509,-19.7],[.511,-20.3],[.513,-20.8],[.515,-20.05],[.517,-19.6],[.519,-20.5],[.502,-20.4],[.504,-19.95],[.506,-20.85],[.508,-20.2],[.51,-19.8],[.512,-20.65],[.514,-19.75],[.516,-20.35],[.518,-20.1],[.5085,-20.55],
[.521,-19.7],[.523,-20.2],[.525,-20.7],[.527,-19.95],[.529,-19.8],[.531,-20.35],[.533,-20.85],[.535,-20.1],[.537,-19.7],[.539,-20.55],[.522,-20.45],[.524,-20.0],[.526,-20.9],[.528,-20.25],[.53,-19.85],[.532,-20.7],[.534,-19.8],[.536,-20.4],[.538,-20.15],[.5285,-20.6],
[.541,-19.8],[.543,-20.25],[.545,-20.75],[.547,-20.0],[.549,-19.85],[.551,-20.4],[.553,-20.9],[.555,-20.15],[.557,-19.8],[.559,-20.6],[.542,-20.5],[.544,-20.05],[.546,-20.95],[.548,-20.3],[.55,-19.9],[.552,-20.75],[.556,-20.45],[.558,-20.2],
[.561,-19.9],[.563,-20.3],[.565,-20.8],[.567,-20.05],[.569,-19.95],[.571,-20.45],[.573,-20.95],[.575,-20.2],[.577,-19.9],[.579,-20.65],[.562,-20.55],[.564,-20.1],[.566,-21.0],[.568,-20.35],[.57,-20.0],[.572,-20.8],[.576,-20.5],[.578,-20.25],
[.581,-19.95],[.583,-20.35],[.585,-20.85],[.587,-20.1],[.589,-20.0],[.591,-20.5],[.593,-21.0],[.595,-20.25],[.597,-19.95],[.599,-20.7],[.582,-20.6],[.584,-20.15],[.586,-21.05],[.588,-20.4],[.592,-20.85],[.596,-20.55],
[.601,-20.05],[.603,-20.4],[.605,-20.9],[.607,-20.15],[.609,-20.1],[.611,-20.55],[.613,-21.0],[.615,-20.3],[.617,-20.05],[.619,-20.75],[.602,-20.65],[.604,-20.2],[.606,-21.05],[.608,-20.45],[.612,-20.9],[.616,-20.6],
[.621,-20.1],[.623,-20.45],[.625,-20.95],[.627,-20.2],[.629,-20.15],[.631,-20.6],[.633,-21.05],[.635,-20.35],[.637,-20.1],[.639,-20.8],[.622,-20.7],[.626,-20.25],[.632,-20.9],[.636,-20.65],
[.641,-20.15],[.643,-20.5],[.645,-21.0],[.647,-20.25],[.649,-20.2],[.651,-20.65],[.653,-21.05],[.655,-20.4],[.657,-20.15],[.659,-20.85],[.642,-20.75],[.646,-20.3],[.652,-20.95],[.656,-20.7],
[.661,-20.2],[.663,-20.55],[.665,-21.0],[.667,-20.3],[.669,-20.25],[.671,-20.7],[.673,-21.05],[.675,-20.45],[.677,-20.2],[.679,-20.9],[.662,-20.8],[.672,-20.35],
[.681,-20.25],[.683,-20.6],[.685,-21.05],[.687,-20.35],[.689,-20.3],[.691,-20.75],[.693,-21.1],[.695,-20.5],[.697,-20.25],[.699,-20.95],[.682,-20.85],[.692,-20.4],
[.701,-20.3],[.703,-20.65],[.705,-21.05],[.707,-20.4],[.709,-20.35],[.711,-20.8],[.713,-21.1],[.715,-20.55],[.717,-20.3],[.719,-20.95],
[.721,-20.35],[.723,-20.7],[.725,-21.05],[.727,-20.45],[.729,-20.4],[.731,-20.85],[.733,-21.1],[.735,-20.6],[.737,-20.4],[.739,-20.95],
[.741,-20.45],[.743,-20.75],[.745,-21.1],[.747,-20.5],[.749,-20.45],[.751,-20.9],[.753,-21.1],[.755,-20.65],[.757,-20.45],[.759,-21.0],
[.761,-20.5],[.763,-20.8],[.765,-21.1],[.767,-20.55],[.769,-20.5],[.771,-20.95],[.773,-21.1],[.775,-20.7],[.777,-20.55],[.779,-21.0],
[.781,-20.55],[.783,-20.85],[.785,-21.1],[.787,-20.6],[.789,-20.6],[.791,-20.95],[.795,-20.75],[.799,-21.0]
];
// limiting-magnitude curves: [redshift, M_AB(B)]
const curveBlue = [[.0876,-15.70],[.1046,-16.07],[.1254,-16.46],[.1449,-16.79],[.1688,-17.14],[.1991,-17.52],[.2251,-17.80],[.2621,-18.13],[.2947,-18.39],[.3641,-18.86],[.4031,-19.10],[.4943,-19.57],[.5811,-19.93],[.6505,-20.17],[.7677,-20.52],[.9196,-20.92]];
const curveGreen = [[.0997,-15.70],[.1176,-16.07],[.1384,-16.44],[.1645,-16.83],[.1905,-17.15],[.2208,-17.49],[.2512,-17.79],[.2924,-18.13],[.3207,-18.34],[.3641,-18.63],[.4465,-19.10],[.5376,-19.53],[.6505,-19.95],[.7677,-20.32],[.9196,-20.73]];
const curveRed = [[.1180,-15.70],[.1384,-16.07],[.1557,-16.36],[.1775,-16.69],[.2035,-17.03],[.2296,-17.33],[.2686,-17.70],[.3337,-18.18],[.3641,-18.37],[.4770,-18.98],[.5984,-19.47],[.6505,-19.66],[.7677,-20.05],[.9196,-20.50]];
// axes
const xMajorTicks = [0.2, 0.4, 0.6, 0.8];
const xMinorTicks = [0.05, 0.1, 0.15, 0.25, 0.3, 0.35, 0.45, 0.5, 0.55, 0.65, 0.7, 0.75, 0.85, 0.9];
const yMajorTicks = [-24, -22, -20, -18, -16];
const yMinorTicks = [-23.5, -23, -22.5, -21.5, -21, -20.5, -19.5, -19, -18.5, -17.5, -17, -16.5];
const panelLabels = ['wide', 'star\u2212forming'];

const FONT = '"DejaVu Serif", "Liberation Serif", serif';
const X_MIN = 0.0125, X_MAX = 0.92, Y_MIN = -24.10, Y_MAX = -15.70;

function xAx(pos, ticks, len, withLabels, withLine, extra) {
  return Object.assign({
    type: 'value', position: pos, min: X_MIN, max: X_MAX,
    axisLine: { show: withLine, onZero: false, lineStyle: { color: '#000', width: 1 } },
    axisTick: { show: true, inside: true, length: len, customValues: ticks, lineStyle: { color: '#000', width: 1 } },
    axisLabel: withLabels ? { show: true, customValues: ticks, color: '#000', fontFamily: FONT, fontSize: 19, margin: 14,
      formatter: v => String(Math.round(v * 10) / 10) } : { show: false },
    splitLine: { show: false }
  }, extra || {});
}
function yAx(pos, ticks, len, withLabels, withLine, extra) {
  return Object.assign({
    type: 'value', position: pos, min: Y_MIN, max: Y_MAX, inverse: true,
    axisLine: { show: withLine, onZero: false, lineStyle: { color: '#000', width: 1 } },
    axisTick: { show: true, inside: true, length: len, customValues: ticks, lineStyle: { color: '#000', width: 1 } },
    axisLabel: withLabels ? { show: true, customValues: ticks, color: '#000', fontFamily: FONT, fontSize: 19, margin: 12,
      formatter: v => (v < 0 ? '\u2212' + Math.abs(v) : String(v)) } : { show: false },
    splitLine: { show: false }
  }, extra || {});
}

const chart = echarts.init(document.getElementById('c'), null, { renderer: 'canvas' });
chart.setOption({
  animation: false,
  backgroundColor: '#fff',
  grid: { left: 90, top: 45, right: 43, bottom: 89, containLabel: false, outerBoundsMode: 'none' },
  xAxis: [
    xAx('bottom', xMajorTicks, 13, true, true, {
      name: 'redshift', nameLocation: 'middle', nameGap: 39,
      nameTextStyle: { color: '#000', fontFamily: FONT, fontSize: 20 }
    }),
    xAx('bottom', xMinorTicks, 7, false, false),
    xAx('top', xMajorTicks, 13, false, true),
    xAx('top', xMinorTicks, 7, false, false)
  ],
  yAxis: [
    yAx('left', yMajorTicks, 13, true, true, {
      name: '{m|M}{s|AB}{m|(B)}', nameLocation: 'middle', nameRotate: 90, nameGap: 57,
      nameTextStyle: { color: '#000', fontFamily: FONT, fontSize: 19,
        rich: {
          m: { fontFamily: FONT, fontSize: 19, color: '#000', lineHeight: 24 },
          s: { fontFamily: FONT, fontSize: 11, color: '#000', lineHeight: 12, verticalAlign: 'bottom' }
        } }
    }),
    yAx('left', yMinorTicks, 7, false, false),
    yAx('right', yMajorTicks, 13, false, true),
    yAx('right', yMinorTicks, 7, false, false)
  ],
  graphic: [
    { type: 'text', x: 116, y: 91, style: { text: panelLabels[0], fill: '#000', font: '20px ' + FONT, verticalAlign: 'middle' } },
    { type: 'text', x: 116, y: 126, style: { text: panelLabels[1], fill: '#000', font: '20px ' + FONT, verticalAlign: 'middle' } }
  ],
  series: [
    { type: 'scatter', xAxisIndex: 0, yAxisIndex: 0, symbol: 'rect', symbolSize: 5.8,
      itemStyle: { color: '#bebebe', opacity: 1 }, silent: true, z: 2,
      data: galaxiesLowZ.concat(galaxiesMidZ, galaxiesHighZ, galaxiesFarZ, galaxiesCore) },
    { type: 'line', xAxisIndex: 0, yAxisIndex: 0, data: curveBlue, smooth: 0.3, showSymbol: false, symbol: 'none',
      lineStyle: { color: '#0000ff', width: 1.5 }, z: 5, clip: true },
    { type: 'line', xAxisIndex: 0, yAxisIndex: 0, data: curveGreen, smooth: 0.3, showSymbol: false, symbol: 'none',
      lineStyle: { color: '#00ff00', width: 1.5 }, z: 5, clip: true },
    { type: 'line', xAxisIndex: 0, yAxisIndex: 0, data: curveRed, smooth: 0.3, showSymbol: false, symbol: 'none',
      lineStyle: { color: '#ff0000', width: 1.5 }, z: 5, clip: true }
  ]
});
</script>
</body></html>
